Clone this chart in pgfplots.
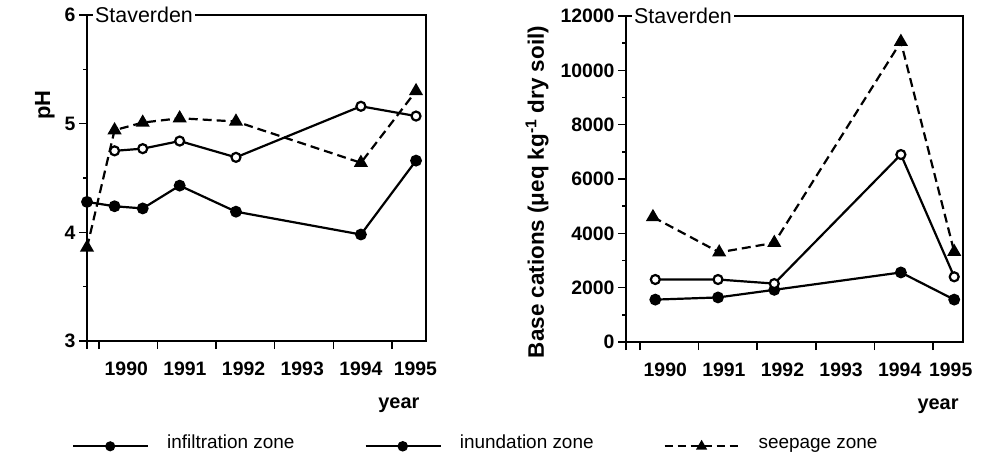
\documentclass[border=0pt]{standalone}
\usepackage{pgfplots}
\pgfplotsset{compat=1.18}
\usepackage{fontspec}
\setmainfont{Liberation Sans}
\begin{document}
\begin{tikzpicture}
\useasboundingbox (0,0) rectangle (986bp,461bp);
\pgfplotsset{
  common/.style={
    scale only axis,
    anchor=south west,
    font=\fontsize{19}{22}\selectfont,
    axis line style={line width=2bp},
    tick pos=left,
    tick align=outside,
    major tick length=8bp,
    minor tick length=4bp,
    every tick/.style={black, line width=1.6bp},
    scaled ticks=false,
    /pgf/number format/assume math mode=true,
    /pgf/number format/1000 sep={},
    ticklabel style={font=\fontsize{19.5}{22}\selectfont\bfseries},
    xticklabel style={yshift=-17bp},
    xticklabels={},
    extra x tick style={major tick length=0pt, tick style={draw=none}},
    extra x tick labels={1990,1991,1992,1993,1994,1995},
    label style={font=\fontsize{20}{24}\selectfont\bfseries},
    xlabel={year},
  },
  infil/.style={black, line width=2.2bp, mark=*, mark size=4.8bp, mark options={solid}},
  inund/.style={black, line width=2.2bp, mark=*, mark size=4.5bp, mark options={solid, fill=white, line width=2.2bp}},
  seep/.style={black, line width=2.2bp, dash pattern=on 9bp off 5bp, mark=triangle*, mark size=6bp, mark options={solid}},
}
% ---------------- left panel: pH ----------------
\begin{axis}[common, name=L,
  at={(87bp,120bp)},
  width=339bp, height=326bp,
  xmin=1989.8, xmax=1995.58,
  ymin=3, ymax=6,
  xtick={1989.8,1990,1991,1992,1993,1994,1995},
  extra x ticks={1990.47,1991.47,1992.47,1993.47,1994.47,1995.4},
  ytick={3,4,5,6},
  minor ytick={3.5,4.5,5.5},
  ylabel={pH},
  ylabel style={at={(axis description cs:-0.124,0.724)}, anchor=center, font=\fontsize{22}{26}\selectfont\bfseries},
  xlabel style={at={(axis description cs:0.92,-0.196)}, anchor=center},
  legend columns=3,
  legend style={at={(axis description cs:-0.053,-0.323)}, anchor=west, draw=none,
    font=\fontsize{19}{22}\selectfont, nodes={inner sep=0pt, text height=1.45ex, text depth=0.45ex},
    /tikz/every odd column/.append style={column sep=18bp},
    /tikz/every even column/.append style={column sep=70bp}},
  legend image code/.code={\draw[mark repeat=2,mark phase=2,#1] plot coordinates {(0bp,0bp) (37bp,0bp) (75bp,0bp)};},
]
\addplot[infil, forget plot] coordinates {(1989.80,4.28) (1990.27,4.24) (1990.75,4.22) (1991.38,4.43) (1992.34,4.19) (1994.47,3.98) (1995.41,4.66)};
\addplot[inund, forget plot] coordinates {(1990.27,4.75) (1990.75,4.77) (1991.38,4.84) (1992.34,4.69) (1994.47,5.16) (1995.41,5.07)};
\addplot[seep, forget plot] coordinates {(1989.80,3.86) (1990.27,4.94) (1990.75,5.01) (1991.38,5.05) (1992.34,5.02) (1994.47,4.64) (1995.41,5.30)};
\addlegendimage{black, line width=2bp, mark=*, mark size=4bp}
\addlegendentry{infiltration zone}
\addlegendimage{black, line width=2.4bp, mark=*, mark size=4bp}
\addlegendentry{inundation zone}
\addlegendimage{black, line width=2bp, dash pattern=on 8bp off 5bp, mark=triangle*, mark size=4.5bp, mark options={solid}}
\addlegendentry{seepage zone}
\end{axis}
\node[anchor=west, fill=white, inner xsep=2bp, inner ysep=1bp, font=\fontsize{21.5}{25}\selectfont] at ([xshift=6bp]L.north west) {Staverden};
% ---------------- right panel: base cations ----------------
\begin{axis}[common, name=R,
  at={(626bp,119bp)},
  width=337bp, height=326bp,
  xmin=1989.76, xmax=1995.51,
  ymin=0, ymax=12000,
  xtick={1989.76,1990,1991,1992,1993,1994,1995},
  extra x ticks={1990.43,1991.43,1992.43,1993.43,1994.43,1995.3},
  ytick={0,2000,4000,6000,8000,10000,12000},
  minor ytick={1000,3000,5000,7000,9000,11000},
  ylabel={Base cations (μeq kg\textsuperscript{-1} dry soil)},
  ylabel style={at={(axis description cs:-0.264,0.46)}, anchor=center, font=\fontsize{22.5}{26}\selectfont\bfseries},
  xlabel style={at={(axis description cs:0.926,-0.196)}, anchor=center},
]
\addplot[infil] coordinates {(1990.26,1560) (1991.33,1640) (1992.29,1920) (1994.45,2560) (1995.36,1560)};
\addplot[inund] coordinates {(1990.26,2300) (1991.33,2300) (1992.29,2150) (1994.45,6900) (1995.36,2400)};
\addplot[seep] coordinates {(1990.22,4600) (1991.35,3300) (1992.29,3650) (1994.45,11050) (1995.36,3320)};
\end{axis}
\node[anchor=west, fill=white, inner xsep=2bp, inner ysep=1bp, font=\fontsize{21.5}{25}\selectfont] at ([xshift=6bp]R.north west) {Staverden};
\end{tikzpicture}
\end{document}
